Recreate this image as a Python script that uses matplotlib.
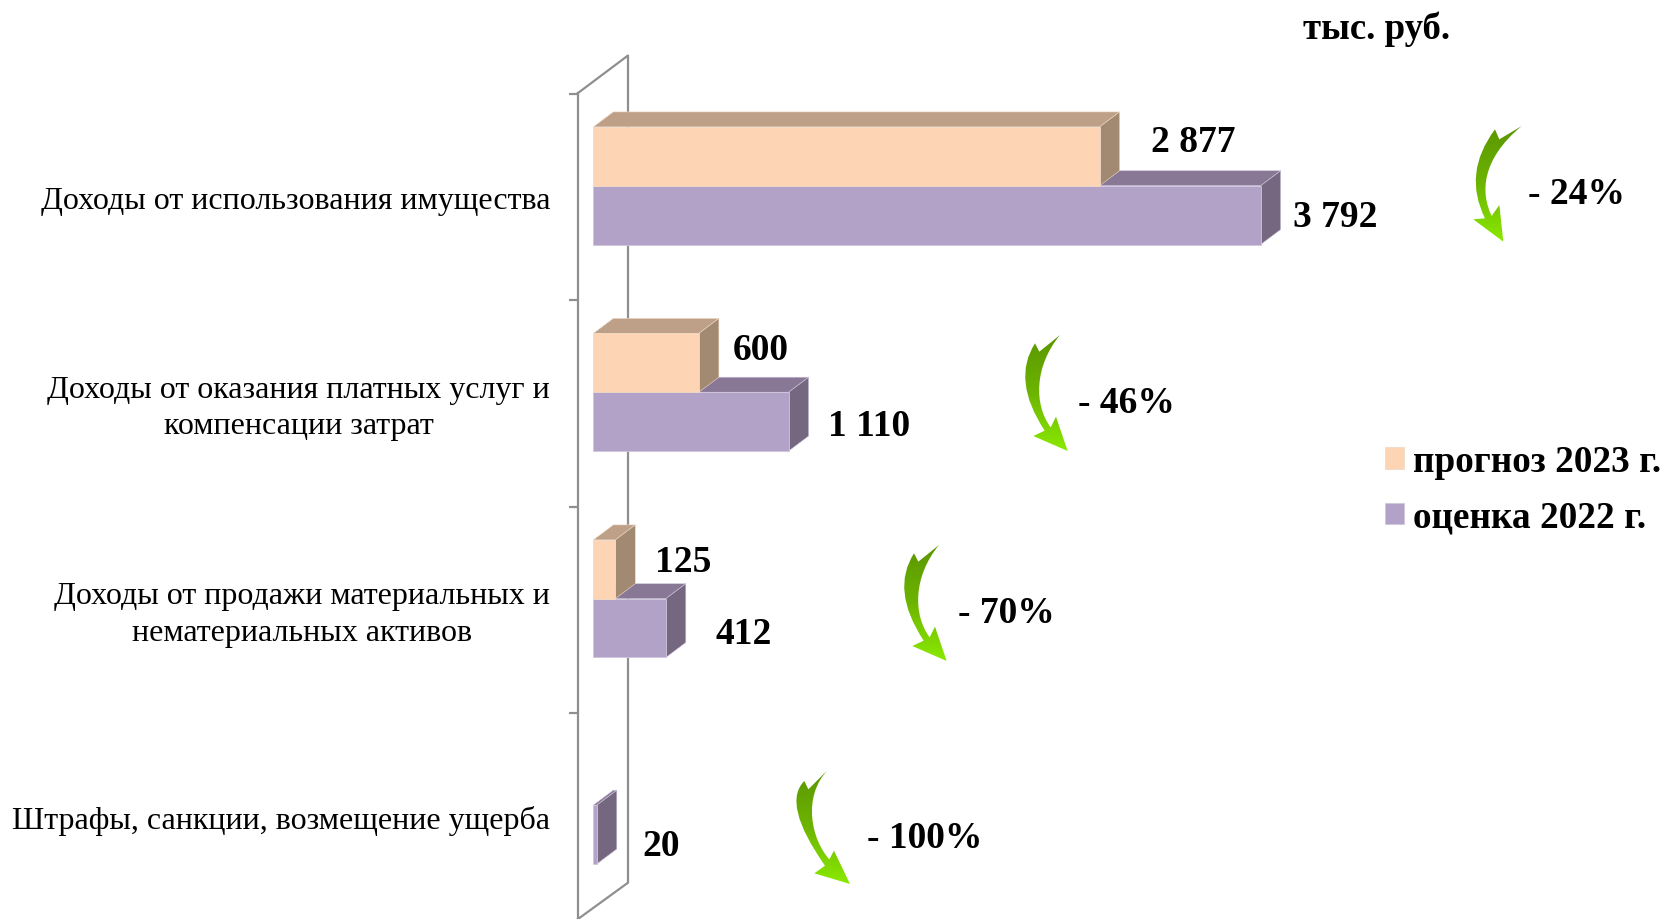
import matplotlib
matplotlib.use("Agg")
import matplotlib.pyplot as plt
from matplotlib.colors import LinearSegmentedColormap
from matplotlib.patches import PathPatch, Polygon
from matplotlib.path import Path
import numpy as np

categories = [
    "Доходы от использования имущества",
    "Доходы от оказания платных услуг и\nкомпенсации затрат",
    "Доходы от продажи материальных и\nнематериальных активов",
    "Штрафы, санкции, возмещение ущерба",
]
forecast_2023 = [2877, 600, 125, 0]
estimate_2022 = [3792, 1110, 412, 20]
forecast_labels = ["2 877", "600", "125", ""]
estimate_labels = ["3 792", "1 110", "412", "20"]
change_labels = ["- 24%", "- 46%", "- 70%", "- 100%"]

W, H = 1665, 920
PX_PER_UNIT = 0.1760
PX_PER_CAT = 206.5
X0, Y0 = 593.3, 196.8   # pixel position of value 0 / first category


def xd(px):
    return (px - X0) / PX_PER_UNIT


def yd(py):
    return (py - Y0) / PX_PER_CAT


plt.rcParams["font.family"] = ["Liberation Serif", "DejaVu Serif"]
fig = plt.figure(figsize=(W / 100, H / 100), dpi=100)
ax = fig.add_axes([578 / W, 0, 1 - 578 / W, 1])
ax.patch.set_alpha(0)

WALL = "#8f8f8f"
for s in ["top", "right", "bottom"]:
    ax.spines[s].set_visible(False)
ax.spines["left"].set_color(WALL)
ax.spines["left"].set_linewidth(1.6)
ax.spines["left"].set_bounds(yd(93), yd(919))

# back wall of the 3D box
ax.plot([xd(578), xd(628), xd(628), xd(578)], [yd(93), yd(55.5), yd(882.7), yd(919)],
        color=WALL, lw=1.6, zorder=1, clip_on=False)

pos = np.arange(len(categories))
bar_h = 58.8 / PX_PER_CAT
shift = 11.1 / PX_PER_CAT   # bars sit a bit above the category centre
dx, dy = 20 / PX_PER_UNIT, 15 / PX_PER_CAT


def bars_3d(values, y, front, top, side, edge, label, z):
    widths = [0.6 if v else 0 for v in values]
    b = ax.barh(y, values, height=bar_h, color=front, edgecolor=edge, linewidth=widths,
                label=label, zorder=z + 1)
    for v, c in zip(values, y):
        if v == 0:
            continue
        t, bt = c - bar_h / 2, c + bar_h / 2
        ax.add_patch(Polygon([(0, t), (dx, t - dy), (v + dx, t - dy), (v, t)],
                             facecolor=top, edgecolor=edge, linewidth=0.4, zorder=z))
        ax.add_patch(Polygon([(v, t), (v + dx, t - dy), (v + dx, bt - dy), (v, bt)],
                             facecolor=side, edgecolor=edge, linewidth=0.4, zorder=z))
    return b


# purple first, the orange side face overlaps its top
est = bars_3d(estimate_2022, pos - shift + bar_h / 2, "#B2A2C7", "#887896", "#75677F",
              "#CFC6DC", "оценка 2022 г.", 3)
fc = bars_3d(forecast_2023, pos - shift - bar_h / 2, "#FDD5B5", "#BEA088", "#A28A72",
             "#EFD9C6", "прогноз 2023 г.", 5)

# value labels, offsets from the bar end in pixels
fc_offset = [(94, 141), (62, 350), (68, 562)]
est_offset = [(75, 216.5), (80, 425.7), (78, 634), (64, 846)]
for i, (v, t) in enumerate(zip(forecast_2023, forecast_labels)):
    if t:
        ax.annotate(t, (v, yd(fc_offset[i][1])), xytext=(fc_offset[i][0], 0),
                    textcoords="offset pixels", ha="center", va="center",
                    fontsize=27, fontweight="bold", zorder=8)
for i, (v, t) in enumerate(zip(estimate_2022, estimate_labels)):
    ax.annotate(t, (v, yd(est_offset[i][1])), xytext=(est_offset[i][0], 0),
                textcoords="offset pixels", ha="center", va="center",
                fontsize=27, fontweight="bold", zorder=8)

ax.set_xticks([])
ax.set_yticks(np.arange(len(categories) + 1) - 0.5)
ax.set_yticklabels([])
ax.tick_params(axis="y", which="major", length=6.5, width=1.6, color=WALL)
# two-line labels sit a little higher than the single-line ones
ax.set_yticks(pos + np.array([0, -0.014, -0.014, 0]), labels=categories, minor=True)
ax.tick_params(axis="y", which="minor", length=0, pad=20, labelsize=23)
for lab in ax.get_yticklabels(minor=True):
    lab.set_multialignment("center")
    lab.set_linespacing(1.33)

# green curved arrows, outlines (3x zoom pixels)
shape_a = dict(tip=(245, 48), notch=(178, 88), corner=(165, 58), c1=(67, 189), j1=(135, 325),
               hl=(100, 328), end=(190, 395), hr=(178, 285), j2=(155, 318), c2a=(122, 250), c2b=(122, 150))
shape_b = dict(tip=(180, 45), notch=(118, 95), corner=(105, 70), c1=(34, 180), j1=(134, 332),
               hl=(100, 348), end=(203, 393), hr=(168, 290), j2=(152, 322), c2a=(102, 255), c2b=(102, 140))
shape_c = dict(tip=(805, 208), notch=(745, 268), corner=(733, 243), c1=(664, 311), j1=(795, 497),
               hl=(763, 520), end=(870, 552), hr=(822, 452), j2=(808, 478), c2a=(755, 420), c2b=(725, 290))
arrow_shapes = [(shape_a, 1440, 110), (shape_b, 1000, 320), (shape_b, 879, 530), (shape_c, 560, 700)]
cmap = LinearSegmentedColormap.from_list("grn", ["#5A9600", "#6DB400", "#8AEA00"])
grad = np.linspace(0, 1, 256).reshape(-1, 1)

for shape, ox, oy in arrow_shapes:
    def p(name):
        return (xd(ox + shape[name][0] / 3), yd(oy + shape[name][1] / 3))
    verts = [p("tip"), p("notch"), p("corner"), p("c1"), p("j1"), p("hl"), p("end"), p("hr"),
             p("j2"), p("c2a"), p("c2b"), p("tip"), p("tip")]
    codes = [Path.MOVETO, Path.LINETO, Path.LINETO, Path.CURVE3, Path.CURVE3, Path.LINETO,
             Path.LINETO, Path.LINETO, Path.LINETO, Path.CURVE4, Path.CURVE4, Path.CURVE4, Path.CLOSEPOLY]
    patch = PathPatch(Path(verts, codes), facecolor="none", edgecolor="none")
    ax.add_patch(patch)
    ys = [p(n)[1] for n in ("tip", "end", "corner")]
    xs = [p(n)[0] for n in ("tip", "end", "hl", "c1", "corner")]
    im = ax.imshow(grad, extent=(min(xs), max(xs), max(ys), min(ys)), cmap=cmap, aspect="auto", zorder=5)
    im.set_clip_path(patch)

change_pos = [(1576, 193), (1126, 403), (1006, 613), (925, 838)]
for t, (px, py) in zip(change_labels, change_pos):
    ax.text(xd(px), yd(py), t, ha="center", va="center", fontsize=27, fontweight="bold", zorder=8)

ax.text(xd(1377), yd(28), "тыс. руб.", ha="center", va="center", fontsize=26.5, fontweight="bold")

# everything one pixel lower than the traced numbers
ax.set_xlim(xd(578), xd(W))
ax.set_ylim(yd(H - 1), yd(-1))

ax.legend(handles=[fc, est], loc="upper left", bbox_to_anchor=(1385 / W, 1 - 445 / H),
          bbox_transform=fig.transFigure, frameon=False, prop=dict(size=26.8, weight="bold"),
          handlelength=0.51, handleheight=0.51, handletextpad=0.25, labelspacing=0.56,
          borderpad=0, borderaxespad=0)

fig.savefig("out.png", dpi=100)
